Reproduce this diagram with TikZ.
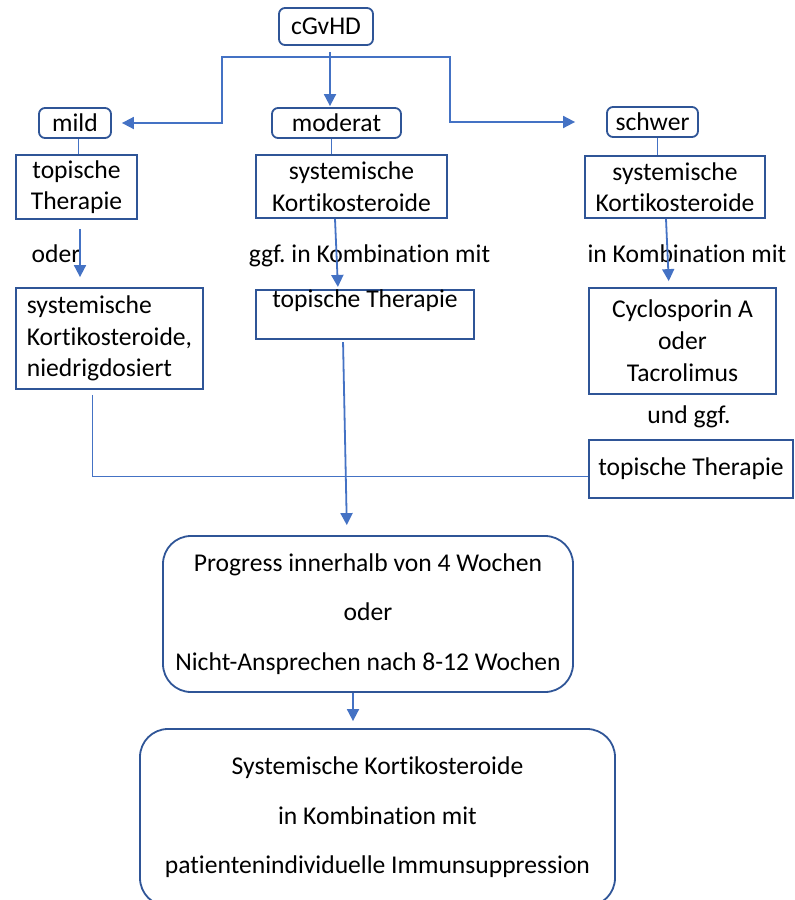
\documentclass[tikz,border=0pt]{standalone}
\usepackage{fontspec}
\setmainfont{Carlito}[Ligatures=NoCommon]
\usetikzlibrary{arrows.meta}
\definecolor{boxblue}{RGB}{47,85,151}
\definecolor{arrblue}{RGB}{68,114,196}
\frenchspacing

\begin{document}
\begin{tikzpicture}[x=1pt, y=-1pt, >={Triangle[length=12pt,width=12pt]},
  font=\fontsize{25.6}{31.5}\selectfont,
  box/.style={draw=boxblue, line width=1.8pt, inner sep=0pt, align=center},
  rbox/.style={box, rounded corners=6pt},
  bigbox/.style={box, rounded corners=28pt, font=\fontsize{25.6}{49.5}\selectfont},
  lbl/.style={anchor=base},
  arr/.style={->, draw=arrblue, line width=1.8pt},
  link/.style={draw=arrblue, line width=0.9pt}]
  \useasboundingbox (0,0) rectangle (795,900);

  \node[rbox, minimum width=94, minimum height=37] (gvhd) at (326,26.5) {cGvHD};
  \node[rbox, minimum width=72, minimum height=30] (mild) at (75,123) {mild};
  \node[rbox, minimum width=129, minimum height=30] (moderat) at (336.5,123) {moderat};
  \node[rbox, minimum width=91, minimum height=30] (schwer) at (652.5,122) {schwer};

  \node[box, minimum width=121, minimum height=64] (mildT) at (76.5,187) {topische\\Therapie};
  \node[box, minimum width=191, minimum height=63] (modS) at (351.5,186.5) {systemische\\Kortikosteroide};
  \node[box, minimum width=180, minimum height=62] (schS) at (675,187) {systemische\\Kortikosteroide};

  \node[lbl] (lbOder) at (56,262) {oder};
  \node[lbl] (lbMod) at (369.5,262) {ggf. in Kombination mit};
  \node[lbl] (lbSch) at (687,262) {in Kombination mit};

  \node[box, minimum width=187, minimum height=101, align=left] (mildS) at (109.5,338.5) {systemische\\Kortikosteroide,\\niedrigdosiert};
  \node[box, minimum width=218, minimum height=49] (modT) at (365,314.5) {topische Therapie\\\mbox{}};
  \node[box, minimum width=187, minimum height=106, font=\fontsize{25.6}{32}\selectfont] (schC) at (682.5,341) {Cyclosporin A\\oder\\Tacrolimus};
  \node[lbl] (lbUnd) at (689,423) {und ggf.};
  \node[box, minimum width=204, minimum height=58] (schT) at (691,469) {topische Therapie};

  \node[bigbox, minimum width=410, minimum height=156] (prog) at (368,614) {Progress innerhalb von 4 Wochen\\oder\\Nicht-Ansprechen nach 8-12 Wochen};
  \node[bigbox, minimum width=475, minimum height=177] (final) at (377.5,817.5) {Systemische Kortikosteroide\\in Kombination mit\\patientenindividuelle Immunsuppression};

  \coordinate (fork) at (330,57);
  \draw[arr, shorten <=6pt, shorten >=1pt] ([xshift=4pt]gvhd.south) -- ([xshift=4pt]gvhd.south |- moderat.north);
  \draw[arr, shorten >=10pt] (fork) -- ++(-108,0) |- (mild.east);
  \draw[arr, shorten >=31pt] (fork) -- ++(120,0) |- (schwer.west);

  \draw[link] ([xshift=3pt]mild.south) -- ([xshift=3pt]mild.south |- mildT.north);
  \draw[link] ([xshift=-5.5pt]moderat.south) -- ([xshift=-5.5pt]moderat.south |- modS.north);
  \draw[link] ([xshift=4.5pt]schwer.south) -- ([xshift=4.5pt]schwer.south |- schS.north);

  \draw[arr, shorten <=9pt, shorten >=10pt] ([xshift=3.5pt]mildT.south) -- ([xshift=3.5pt]mildT.south |- mildS.north);
  \draw[arr, shorten >=2pt] ([xshift=-16.5pt]modS.south) -- ([xshift=-27pt]modT.north);
  \draw[arr, shorten >=6pt] ([xshift=-9pt]schS.south) -- ([xshift=-13.5pt]schC.north);
  \draw[arr, shorten <=2pt, shorten >=10pt] ([xshift=-22pt]modT.south) -- ([xshift=-21pt]prog.north);
  \draw[arr, shorten >=7pt] ([xshift=-15pt]prog.south) -- ([xshift=-24.5pt]final.north);
  \draw[link] ([xshift=-17.5pt,yshift=-5pt]mildS.south) |- ([yshift=-7pt]schT.west);
\end{tikzpicture}
\end{document}
